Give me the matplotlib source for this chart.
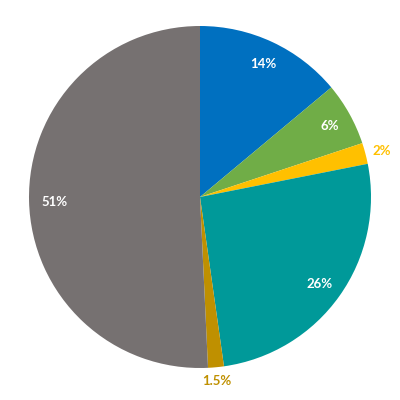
import numpy as np
import matplotlib
matplotlib.use("Agg")
import matplotlib.pyplot as plt

labels = ["14%", "6%", "2%", "26%", "1.5%", "51%"]
values = [14, 6, 2, 26, 1.5, 51]
colors = ["#0070C0", "#70AD47", "#FFC000", "#009999", "#BF9000", "#767171"]
label_colors = ["white", "white", "#FFC000", "white", "#BF9000", "white"]
label_dist = [0.87, 0.87, 1.10, 0.86, 1.07, 0.85]

fig = plt.figure(figsize=(4, 4), dpi=100)
ax = fig.add_axes([0.0725, 0.08, 0.855, 0.855])
wedges, _ = ax.pie(values, colors=colors, startangle=90, counterclock=False,
                   radius=1, wedgeprops=dict(linewidth=0))
total = sum(values)
start = 90.0
for v, lab, c, d in zip(values, labels, label_colors, label_dist):
    mid = start - v / total * 360 / 2
    start -= v / total * 360
    a = np.deg2rad(mid)
    ax.text(d * np.cos(a), d * np.sin(a) - 0.01, lab, ha="center", va="center",
            color=c, fontsize=9.5, fontweight="bold", family=["Lato", "DejaVu Sans"])
ax.set_xlim(-1, 1)
ax.set_ylim(-1, 1)
ax.set_aspect("equal")
ax.axis("off")
fig.savefig("out.png", dpi=100)
